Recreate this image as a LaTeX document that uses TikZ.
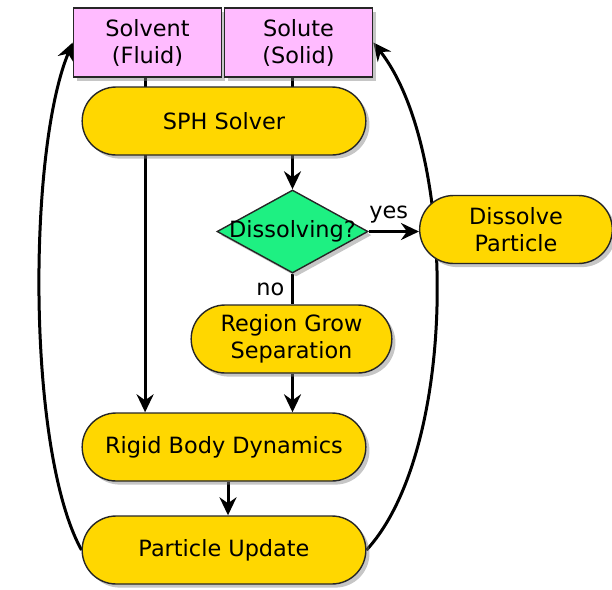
\documentclass[tikz,border=0pt]{standalone}
\usepackage{fontspec}
\setmainfont{DejaVu Sans}
\usetikzlibrary{shapes.geometric,shapes.misc,shadows,arrows.meta,backgrounds}

\definecolor{phasepink}{RGB}{255,187,255}
\definecolor{stepgold}{RGB}{255,215,0}
\definecolor{testgreen}{RGB}{30,240,130}

\begin{document}
\begin{tikzpicture}
      [%%%%%%%%%%%%%%%%%%%%%%%%%%%%%%
          x=0.5pt, y=-0.5pt,
          font=\fontsize{11.2}{13.5}\selectfont,
          shade/.style={drop shadow={shadow xshift=1.8pt,shadow yshift=-1.8pt,opacity=0.45}},
          phase/.style={rectangle,draw=black!85,line width=0.8pt,fill=phasepink,
                        align=center,minimum width=74pt,minimum height=34.5pt,shade},
          stepbox/.style={rounded rectangle,draw=black!85,line width=0.7pt,fill=stepgold,
                        align=center,minimum width=148.5pt,minimum height=34pt,shade},
          test/.style={diamond,draw=black!85,line width=0.7pt,fill=testgreen,
                        aspect=1.82,inner xsep=-4pt,inner ysep=0pt,
                        minimum width=75.5pt,minimum height=41.5pt,shade},
          arr/.style={line width=1.5pt,-{Stealth[length=9pt,width=8.5pt,inset=3pt]}},
          link/.style={line width=1.5pt}
      ]%%%%%%%%%%%%%%%%%%%%%%%%%%%%%%

  \useasboundingbox (0,0) rectangle (612,590);

  \node[phase] (fluid) at (147.5,42.5) {Solvent\\(Fluid)};
  \node[phase] (solid) at (298.5,42.5) {Solute\\(Solid)};
  \node[stepbox] (sph) at (224,121) {SPH Solver};
  \node[test] (dis) at (292.5,231.5) {Dissolving?};
  \node[stepbox,minimum width=103pt] (dpart) at (516,229.5) {Dissolve\\Particle};
  \node[stepbox,minimum width=107pt] (region) at (291.5,339) {Region Grow\\Separation};
  \node[stepbox] (rigid) at (224,447) {Rigid Body Dynamics};
  \node[stepbox] (update) at (224,550) {Particle Update};

  \begin{scope}[on background layer]
    \draw[arr] ([xshift=-1.2pt]fluid.south) -- ([xshift=-1.2pt]fluid.south |- rigid.north);
    \draw[arr] (dis.north |- solid.south) -- (dis.north);
    \draw[arr] (dis.east) -- node[above,pos=0.4]{yes} (dis.east -| dpart.west);
    \draw[link] (dis.south) -- node[left]{no} (dis.south |- region.north);
    \draw[arr] (dis.south |- region.south) -- (dis.south |- rigid.north);
    \draw[arr] ([xshift=2pt]rigid.south) -- ([xshift=2pt]update.north);
    \draw[arr] (update.west) .. controls +(-55,-100) and +(-45,108) .. (fluid.west);
    \draw[arr] (update.east) .. controls +(92,-100) and +(85,108) .. (solid.east);
  \end{scope}

\end{tikzpicture}
\end{document}
